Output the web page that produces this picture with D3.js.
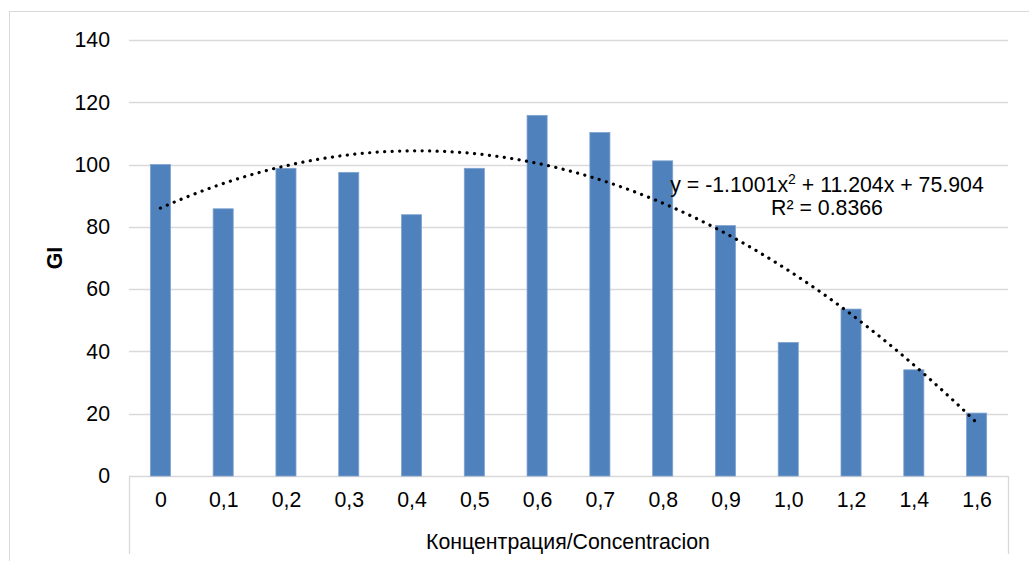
<!DOCTYPE html>
<html><head><meta charset="utf-8">
<script src="https://cdn.jsdelivr.net/npm/d3@7"></script>
<style>body{margin:0;background:#fff}svg{display:block}text{font-family:"Liberation Sans",Arial,sans-serif}</style>
</head><body><svg id="c" width="1029" height="561"></svg>
<script>
const categories = ["0","0,1","0,2","0,3","0,4","0,5","0,6","0,7","0,8","0,9","1,0","1,2","1,4","1,6"];
const giValues = [100, 85.8, 98.8, 97.5, 83.9, 98.8, 115.8, 110.3, 101.2, 80.4, 42.9, 53.6, 34.1, 20.2];
const yTicks = [0, 20, 40, 60, 80, 100, 120, 140];
const trendCoef = [-1.1001, 11.204, 75.904];
const trendLabel = ["y = -1.1001x", "2", " + 11.204x + 75.904"];
const r2Label = "R² = 0.8366";
const yTitle = "GI";
const xTitle = "Концентрация/Concentracion";

const FS = 21.3;
const svg = d3.select("#c");
const L = 129, R = 1008, T = 40, B = 476;
const x = d3.scaleBand().domain(categories).range([L, R]).paddingInner(0.68).paddingOuter(0.34);
const xc = d3.scalePoint().domain(categories).range([L, R]).padding(0.5);
const y = d3.scaleLinear().domain([0, 140]).range([B, T]);

// chart border
svg.append("rect").attr("x", 9.5).attr("y", 11.5).attr("width", 1040).attr("height", 600)
  .attr("fill", "none").attr("stroke", "#D9D9D9");

// gridlines
svg.append("g").selectAll("line").data(yTicks).join("line")
  .attr("x1", L).attr("x2", R).attr("y1", d => Math.round(y(d)) + 0.5).attr("y2", d => Math.round(y(d)) + 0.5)
  .attr("stroke", "#D9D9D9").attr("stroke-width", 1.3);

// y tick labels
const ya = svg.append("g").attr("transform", `translate(${L},0)`)
  .call(d3.axisLeft(y).tickValues(yTicks).tickSize(0).tickPadding(19));
ya.select(".domain").remove();
ya.selectAll("text").attr("font-size", FS).attr("fill", "#000").attr("font-family", "Liberation Sans, Arial");

// x axis box lines
svg.append("line").attr("x1", L + 0.5).attr("x2", L + 0.5).attr("y1", B).attr("y2", 554).attr("stroke", "#D9D9D9").attr("stroke-width", 1.3);
svg.append("line").attr("x1", R + 0.5).attr("x2", R + 0.5).attr("y1", B).attr("y2", 554).attr("stroke", "#D9D9D9").attr("stroke-width", 1.3);

// bars
svg.append("g").selectAll("rect").data(giValues).join("rect")
  .attr("x", (d, i) => x(categories[i])).attr("width", x.bandwidth())
  .attr("y", d => y(d)).attr("height", d => B - y(d))
  .attr("fill", "#4F81BD").attr("stroke", "#7FA3D0").attr("stroke-width", 0.8);

// x labels
const xa = svg.append("g").attr("transform", `translate(0,${B})`)
  .call(d3.axisBottom(xc).tickSize(0).tickPadding(16));
xa.select(".domain").remove();
xa.selectAll("text").attr("font-size", FS).attr("fill", "#000").attr("font-family", "Liberation Sans, Arial");

// trend line
const f = t => trendCoef[0] * t * t + trendCoef[1] * t + trendCoef[2];
const ts = d3.range(1, 14.001, 0.05);
const line = d3.line().x(t => xc(categories[0]) + (t - 1) * xc.step()).y(t => y(f(t))).curve(d3.curveLinear);
svg.append("path").datum(ts).attr("d", line).attr("fill", "none")
  .attr("stroke", "#000").attr("stroke-width", 3.2).attr("stroke-linecap", "round")
  .attr("stroke-dasharray", "0.1 7.4");

// equation
const eq = svg.append("text").attr("x", 827).attr("y", 192).attr("text-anchor", "middle").attr("font-size", FS).attr("fill", "#000");
eq.append("tspan").text(trendLabel[0]);
eq.append("tspan").attr("font-size", 14).attr("dy", -8).text(trendLabel[1]);
eq.append("tspan").attr("dy", 8).text(trendLabel[2]);
svg.append("text").attr("x", 827).attr("y", 215).attr("text-anchor", "middle").attr("font-size", FS).attr("fill", "#000").text(r2Label);

// titles
svg.append("text").attr("transform", "translate(62,258) rotate(-90)").attr("text-anchor", "middle")
  .attr("font-size", FS).attr("font-weight", "bold").attr("fill", "#000").text(yTitle);
svg.append("text").attr("x", 568).attr("y", 549).attr("text-anchor", "middle")
  .attr("font-size", FS).attr("fill", "#000").text(xTitle);
</script></body></html>
